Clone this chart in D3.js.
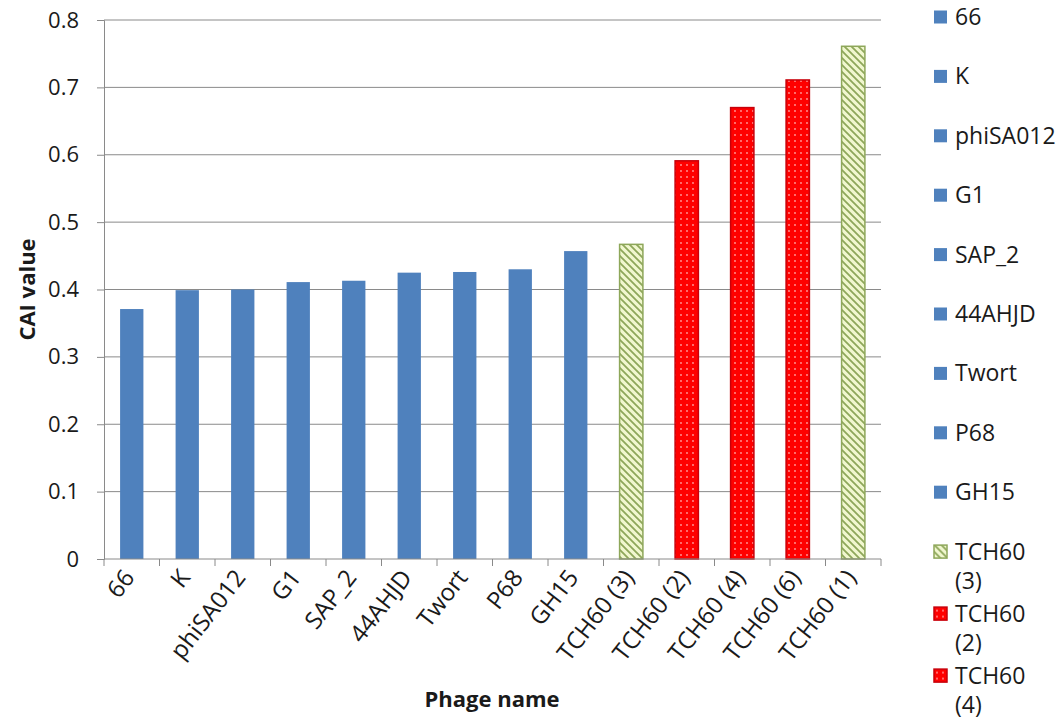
<!DOCTYPE html>
<html>
<head>
<meta charset="utf-8">
<script src="https://cdn.jsdelivr.net/npm/d3@7"></script>
<style>
  body { margin: 0; background: #fff; }
  svg { display: block; }
  text { font-family: "Open Sans", sans-serif; fill: #1a1a1a; }
</style>
</head>
<body>
<svg id="chart" width="1062" height="719"></svg>
<script>
// Codon adaptation index per phage
const phages = ["66", "K", "phiSA012", "G1", "SAP_2", "44AHJD", "Twort", "P68", "GH15",
                "TCH60 (3)", "TCH60 (2)", "TCH60 (4)", "TCH60 (6)", "TCH60 (1)"];
const caiValues = [0.371, 0.399, 0.400, 0.411, 0.413, 0.425, 0.426, 0.430, 0.457,
                   0.467, 0.591, 0.670, 0.711, 0.761];
const barStyles = ["solid", "solid", "solid", "solid", "solid", "solid", "solid", "solid", "solid",
                   "hatch", "dots", "dots", "dots", "hatch"];
const yTicks = [0, 0.1, 0.2, 0.3, 0.4, 0.5, 0.6, 0.7, 0.8];
const yTitle = "CAI value";
const xTitle = "Phage name";

const W = 1062, H = 719;
const plot = { left: 104, right: 881, top: 20, bottom: 559 };

const svg = d3.select("#chart");
const defs = svg.append("defs");

// diagonal hatch on pale green
const hatch = defs.append("pattern")
  .attr("id", "hatch").attr("patternUnits", "userSpaceOnUse")
  .attr("width", 7).attr("height", 7);
hatch.append("rect").attr("width", 7).attr("height", 7).attr("fill", "#f1f7cf");
hatch.append("path")
  .attr("d", "M-1,-1 L8,8 M-1,6 L1,8 M6,-1 L8,1")
  .attr("stroke", "#8ea75a").attr("stroke-width", 1.8);

// red with a fine grid of light dots
const dots = defs.append("pattern")
  .attr("id", "dots").attr("patternUnits", "userSpaceOnUse")
  .attr("width", 6).attr("height", 6);
dots.append("rect").attr("width", 6).attr("height", 6).attr("fill", "#ff0000");
dots.append("circle").attr("cx", 3).attr("cy", 3).attr("r", 0.9).attr("fill", "#ff9c9c");

const fillFor = s => s === "solid" ? "#4f81bd" : s === "hatch" ? "url(#hatch)" : "url(#dots)";
const strokeFor = s => s === "solid" ? "none" : s === "hatch" ? "#8ea75a" : "#c8000a";

const x = d3.scaleBand()
  .domain(phages)
  .range([plot.left, plot.right])
  .paddingInner(0.58)
  .paddingOuter(0.29);

const y = d3.scaleLinear()
  .domain([0, 0.8])
  .range([plot.bottom, plot.top]);

// horizontal gridlines
svg.append("g")
  .selectAll("line")
  .data(yTicks.filter(t => t > 0))
  .join("line")
  .attr("x1", plot.left).attr("x2", plot.right)
  .attr("y1", d => y(d)).attr("y2", d => y(d))
  .attr("stroke", "#8a8a8a").attr("stroke-width", 1);

// y axis
const yAxis = svg.append("g")
  .attr("transform", `translate(${plot.left},0)`)
  .call(d3.axisLeft(y).tickValues(yTicks).tickSize(7).tickPadding(18)
        .tickFormat(d => d === 0 ? "0" : d3.format(".1f")(d)));
yAxis.select(".domain").attr("stroke", "#8a8a8a");
yAxis.selectAll(".tick line").attr("stroke", "#8a8a8a");
yAxis.selectAll(".tick text")
  .attr("font-size", 22).attr("font-family", "Open Sans, sans-serif").attr("fill", "#1a1a1a");

// bars
svg.append("g")
  .selectAll("rect")
  .data(phages.map((p, i) => ({ name: p, value: caiValues[i], style: barStyles[i] })))
  .join("rect")
  .attr("x", d => x(d.name))
  .attr("width", x.bandwidth())
  .attr("y", d => y(d.value))
  .attr("height", d => y(0) - y(d.value))
  .attr("fill", d => fillFor(d.style))
  .attr("stroke", d => strokeFor(d.style))
  .attr("stroke-width", 1.5);

// x axis baseline and category boundary ticks
svg.append("line")
  .attr("x1", plot.left).attr("x2", plot.right)
  .attr("y1", y(0)).attr("y2", y(0))
  .attr("stroke", "#8a8a8a");
const bounds = d3.range(phages.length + 1).map(i => plot.left + i * x.step());
svg.append("g")
  .selectAll("line")
  .data(bounds)
  .join("line")
  .attr("x1", d => d).attr("x2", d => d)
  .attr("y1", y(0)).attr("y2", y(0) + 7)
  .attr("stroke", "#8a8a8a");

// rotated category labels
svg.append("g")
  .selectAll("text")
  .data(phages)
  .join("text")
  .attr("transform", d => `translate(${x(d) + x.bandwidth() / 2 + 4},${plot.bottom + 19}) rotate(-52)`)
  .attr("text-anchor", "end")
  .attr("font-size", 24)
  .text(d => d);

// axis titles
svg.append("text")
  .attr("transform", `translate(35,${(plot.top + plot.bottom) / 2}) rotate(-90)`)
  .attr("text-anchor", "middle")
  .attr("font-size", 22).attr("font-weight", "bold")
  .text(yTitle);
svg.append("text")
  .attr("x", 492).attr("y", 707)
  .attr("text-anchor", "middle")
  .attr("font-size", 22).attr("font-weight", "bold")
  .text(xTitle);

// legend: one entry per phage, wrapping names that contain a space
const legend = svg.append("g");
let ly = 17;
phages.forEach((name, i) => {
  const lines = name.includes(" ") ? name.split(" ") : [name];
  if (ly < H) {
    const g = legend.append("g").attr("transform", `translate(934,${ly})`);
    g.append("rect")
      .attr("x", 0).attr("y", -6.5).attr("width", 13).attr("height", 13)
      .attr("fill", fillFor(barStyles[i]))
      .attr("stroke", strokeFor(barStyles[i])).attr("stroke-width", 1.5);
    g.selectAll("text")
      .data(lines)
      .join("text")
      .attr("x", 21)
      .attr("y", (d, k) => k * 29)
      .attr("dy", "0.35em")
      .attr("font-size", 23)
      .text(d => d);
  }
  ly += lines.length > 1 ? 62 : 59.4;
});
</script>
</body>
</html>
